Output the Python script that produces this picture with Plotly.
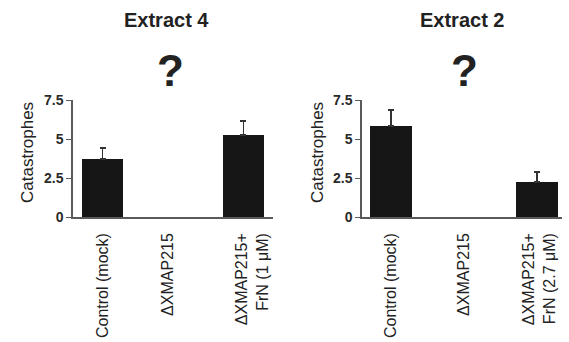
import plotly.graph_objects as go

categories = ["Control (mock)", "ΔXMAP215", "ΔXMAP215+<br>FrN (1 μM)"]
categories2 = ["Control (mock)", "ΔXMAP215", "ΔXMAP215+<br>FrN (2.7 μM)"]
extract4_values = [3.72, 0, 5.25]
extract4_errors = [0.70, 0, 0.90]
extract2_values = [5.83, 0, 2.24]
extract2_errors = [1.03, 0, 0.64]
panel_titles = ["Extract 4", "Extract 2"]
y_ticks = [0, 2.5, 5, 7.5]
y_ticktext = ["<b>0</b>", "<b>2.5</b>", "<b>5</b>", "<b>7.5</b>"]

FONT = "Liberation Sans, Arial, Helvetica, sans-serif"
BAR = "#161616"
AX = "#5a5a5a"

fig = go.Figure()

def add_panel(vals, errs, xa, ya):
    xs = [0, 1, 2]
    shown = [i for i, v in enumerate(vals) if v > 0]
    fig.add_trace(go.Bar(
        x=[xs[i] for i in shown], y=[vals[i] for i in shown],
        width=0.58, marker=dict(color=BAR, line=dict(width=0)),
        error_y=dict(type="data", symmetric=False,
                     array=[errs[i] for i in shown],
                     arrayminus=[0 for _ in shown],
                     color="#333333", thickness=1.5, width=3),
        xaxis=xa, yaxis=ya, showlegend=False))

add_panel(extract4_values, extract4_errors, "x", "y")
add_panel(extract2_values, extract2_errors, "x2", "y2")

ydom = [1 - 217 / 342, 1 - 100 / 342]
common_y = dict(range=[0, 7.5], tickvals=y_ticks, ticktext=y_ticktext,
                showgrid=False, zeroline=False, showline=True, linecolor=AX,
                linewidth=1.5, ticks="outside", ticklen=5, tickcolor=AX,
                tickwidth=1.2, tickfont=dict(family=FONT, size=14, color="#2a2a2a"),
                domain=ydom, automargin=False)
common_x = dict(showgrid=False, zeroline=False, showline=True, linecolor=AX,
                linewidth=1.5, ticks="", tickangle=-90,
                tickfont=dict(family=FONT, size=16, color="#222"),
                ticklabelstandoff=8, automargin=False)

fig.update_layout(
    width=569, height=342,
    margin=dict(l=0, r=0, t=0, b=0),
    paper_bgcolor="white", plot_bgcolor="white",
    bargap=0,
    xaxis=dict(domain=[73 / 569, 273 / 569], range=[-0.42, 2.42],
               tickvals=[0, 0.92, 2.13], ticktext=categories, anchor="y", **common_x),
    yaxis=dict(anchor="x", **common_y),
    xaxis2=dict(domain=[362 / 569, 562 / 569], range=[-0.40, 2.34],
                tickvals=[0, 1, 2.03], ticktext=categories2, anchor="y2", **common_x),
    yaxis2=dict(anchor="x2", **common_y),
)

annotations = []
for title, xc, qx in [(panel_titles[0], 166, 170), (panel_titles[1], 462, 464)]:
    annotations.append(dict(text="<b>%s</b>" % title, x=xc / 569, y=1 - 20 / 342,
                            xref="paper", yref="paper", showarrow=False,
                            xanchor="center", yanchor="middle",
                            font=dict(family=FONT, size=20, color="#222")))
    annotations.append(dict(text="<b>?</b>", x=qx / 569, y=1 - 70 / 342,
                            xref="paper", yref="paper", showarrow=False,
                            xanchor="center", yanchor="middle",
                            font=dict(family=FONT, size=44, color="#222")))
for ycx in [27, 317]:
    annotations.append(dict(text="Catastrophes", x=ycx / 569, y=1 - 153 / 342,
                            xref="paper", yref="paper", showarrow=False,
                            textangle=-90, xanchor="center", yanchor="middle",
                            font=dict(family=FONT, size=17, color="#222")))
fig.update_layout(annotations=annotations)

fig.write_html("out.html", config={"displayModeBar": False},
               post_script="document.body.style.margin='0px';document.body.style.padding='0px';")
